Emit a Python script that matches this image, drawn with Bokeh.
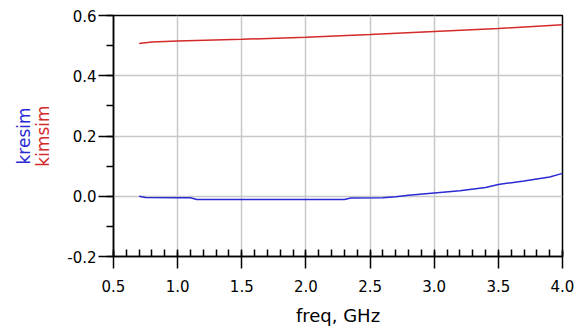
from bokeh.plotting import figure
from bokeh.models import Range1d, FixedTicker, CustomJSTickFormatter, LinearAxis
from bokeh.embed import file_html
from bokeh.resources import INLINE

freq = [0.7, 0.75, 1.0, 1.1, 1.15, 1.5, 2.0, 2.3, 2.35, 2.6, 2.7, 2.8, 3.0, 3.2, 3.4, 3.5, 3.7, 3.9, 4.0]
kresim = [0.0, -0.004, -0.005, -0.005, -0.011, -0.011, -0.011, -0.011, -0.006, -0.005, -0.002, 0.003, 0.011, 0.018, 0.029, 0.039, 0.051, 0.064, 0.076]
freq_im = [0.7, 0.8, 1.0, 1.5, 2.0, 2.5, 3.0, 3.5, 4.0]
kimsim = [0.507, 0.512, 0.515, 0.521, 0.528, 0.537, 0.547, 0.557, 0.569]

x_major = [0.5, 1.0, 1.5, 2.0, 2.5, 3.0, 3.5, 4.0]
y_major = [-0.2, 0.0, 0.2, 0.4, 0.6]
x_minor = [round(0.5 + 0.1 * i, 2) for i in range(36)]
y_minor = [-0.2, -0.1, 0.0, 0.1, 0.2, 0.3, 0.4, 0.5, 0.6]

FONT = "DejaVu Sans"
RED = "#d42a2a"
BLUE = "#2a2ad4"

p = figure(width=574, height=330, output_backend="svg", toolbar_location=None,
           x_range=Range1d(0.5, 4.0), y_range=Range1d(-0.2, 0.6),
           min_border_left=113, min_border_right=12, min_border_top=15, min_border_bottom=74)
p.background_fill_color = "white"
p.border_fill_color = "white"
p.outline_line_color = "black"
p.outline_line_width = 1.5

p.line(freq_im, kimsim, line_color=RED, line_width=1.5)
p.line(freq, kresim, line_color=BLUE, line_width=1.5)

p.xaxis.ticker = FixedTicker(ticks=x_major, minor_ticks=x_minor)
p.yaxis.ticker = FixedTicker(ticks=y_major, minor_ticks=y_minor)
for ax in (p.xaxis[0], p.yaxis[0]):
    ax.axis_line_color = "black"
    ax.axis_line_width = 1.5
    ax.major_tick_line_color = "black"
    ax.major_tick_line_width = 1.5
    ax.minor_tick_line_color = "black"
    ax.minor_tick_line_width = 1.5
    ax.major_label_text_font = FONT
    ax.major_label_text_font_size = "15px"
    ax.major_label_text_color = "black"
    ax.formatter = CustomJSTickFormatter(code="return tick.toFixed(1);")

p.xaxis.major_tick_in = 5
p.xaxis.major_tick_out = 12
p.xaxis.minor_tick_in = 7
p.xaxis.minor_tick_out = 0
p.xaxis.major_label_standoff = 11
p.yaxis.major_tick_in = 0
p.yaxis.major_tick_out = 15
p.yaxis.minor_tick_in = 0
p.yaxis.minor_tick_out = 7
p.yaxis.major_label_standoff = 2

p.xaxis.axis_label = "freq, GHz"
p.xaxis.axis_label_text_font = FONT
p.xaxis.axis_label_text_font_size = "18px"
p.xaxis.axis_label_text_font_style = "normal"
p.xaxis.axis_label_text_color = "black"
p.xaxis.axis_label_standoff = 10

# y-axis labels: kimsim (red, nearer the axis) and kresim (blue, outer)
p.yaxis.axis_label = "kimsim"
p.yaxis.axis_label_text_font = FONT
p.yaxis.axis_label_text_font_size = "17px"
p.yaxis.axis_label_text_font_style = "normal"
p.yaxis.axis_label_text_color = RED
p.yaxis.axis_label_standoff = 11

outer = LinearAxis(ticker=FixedTicker(ticks=[]), axis_label="kresim",
                   axis_line_color=None, major_tick_line_color=None, minor_tick_line_color=None,
                   major_tick_out=0, minor_tick_out=0, major_label_standoff=0,
                   axis_label_standoff=-3, axis_label_text_font=FONT,
                   axis_label_text_font_size="17px", axis_label_text_font_style="normal",
                   axis_label_text_color=BLUE)
p.add_layout(outer, "left")

p.xgrid.grid_line_color = "#c8c8c8"
p.ygrid.grid_line_color = "#c8c8c8"
p.xgrid.grid_line_width = 1.5
p.ygrid.grid_line_width = 1.5

open("out.html", "w").write(file_html(p, INLINE))
